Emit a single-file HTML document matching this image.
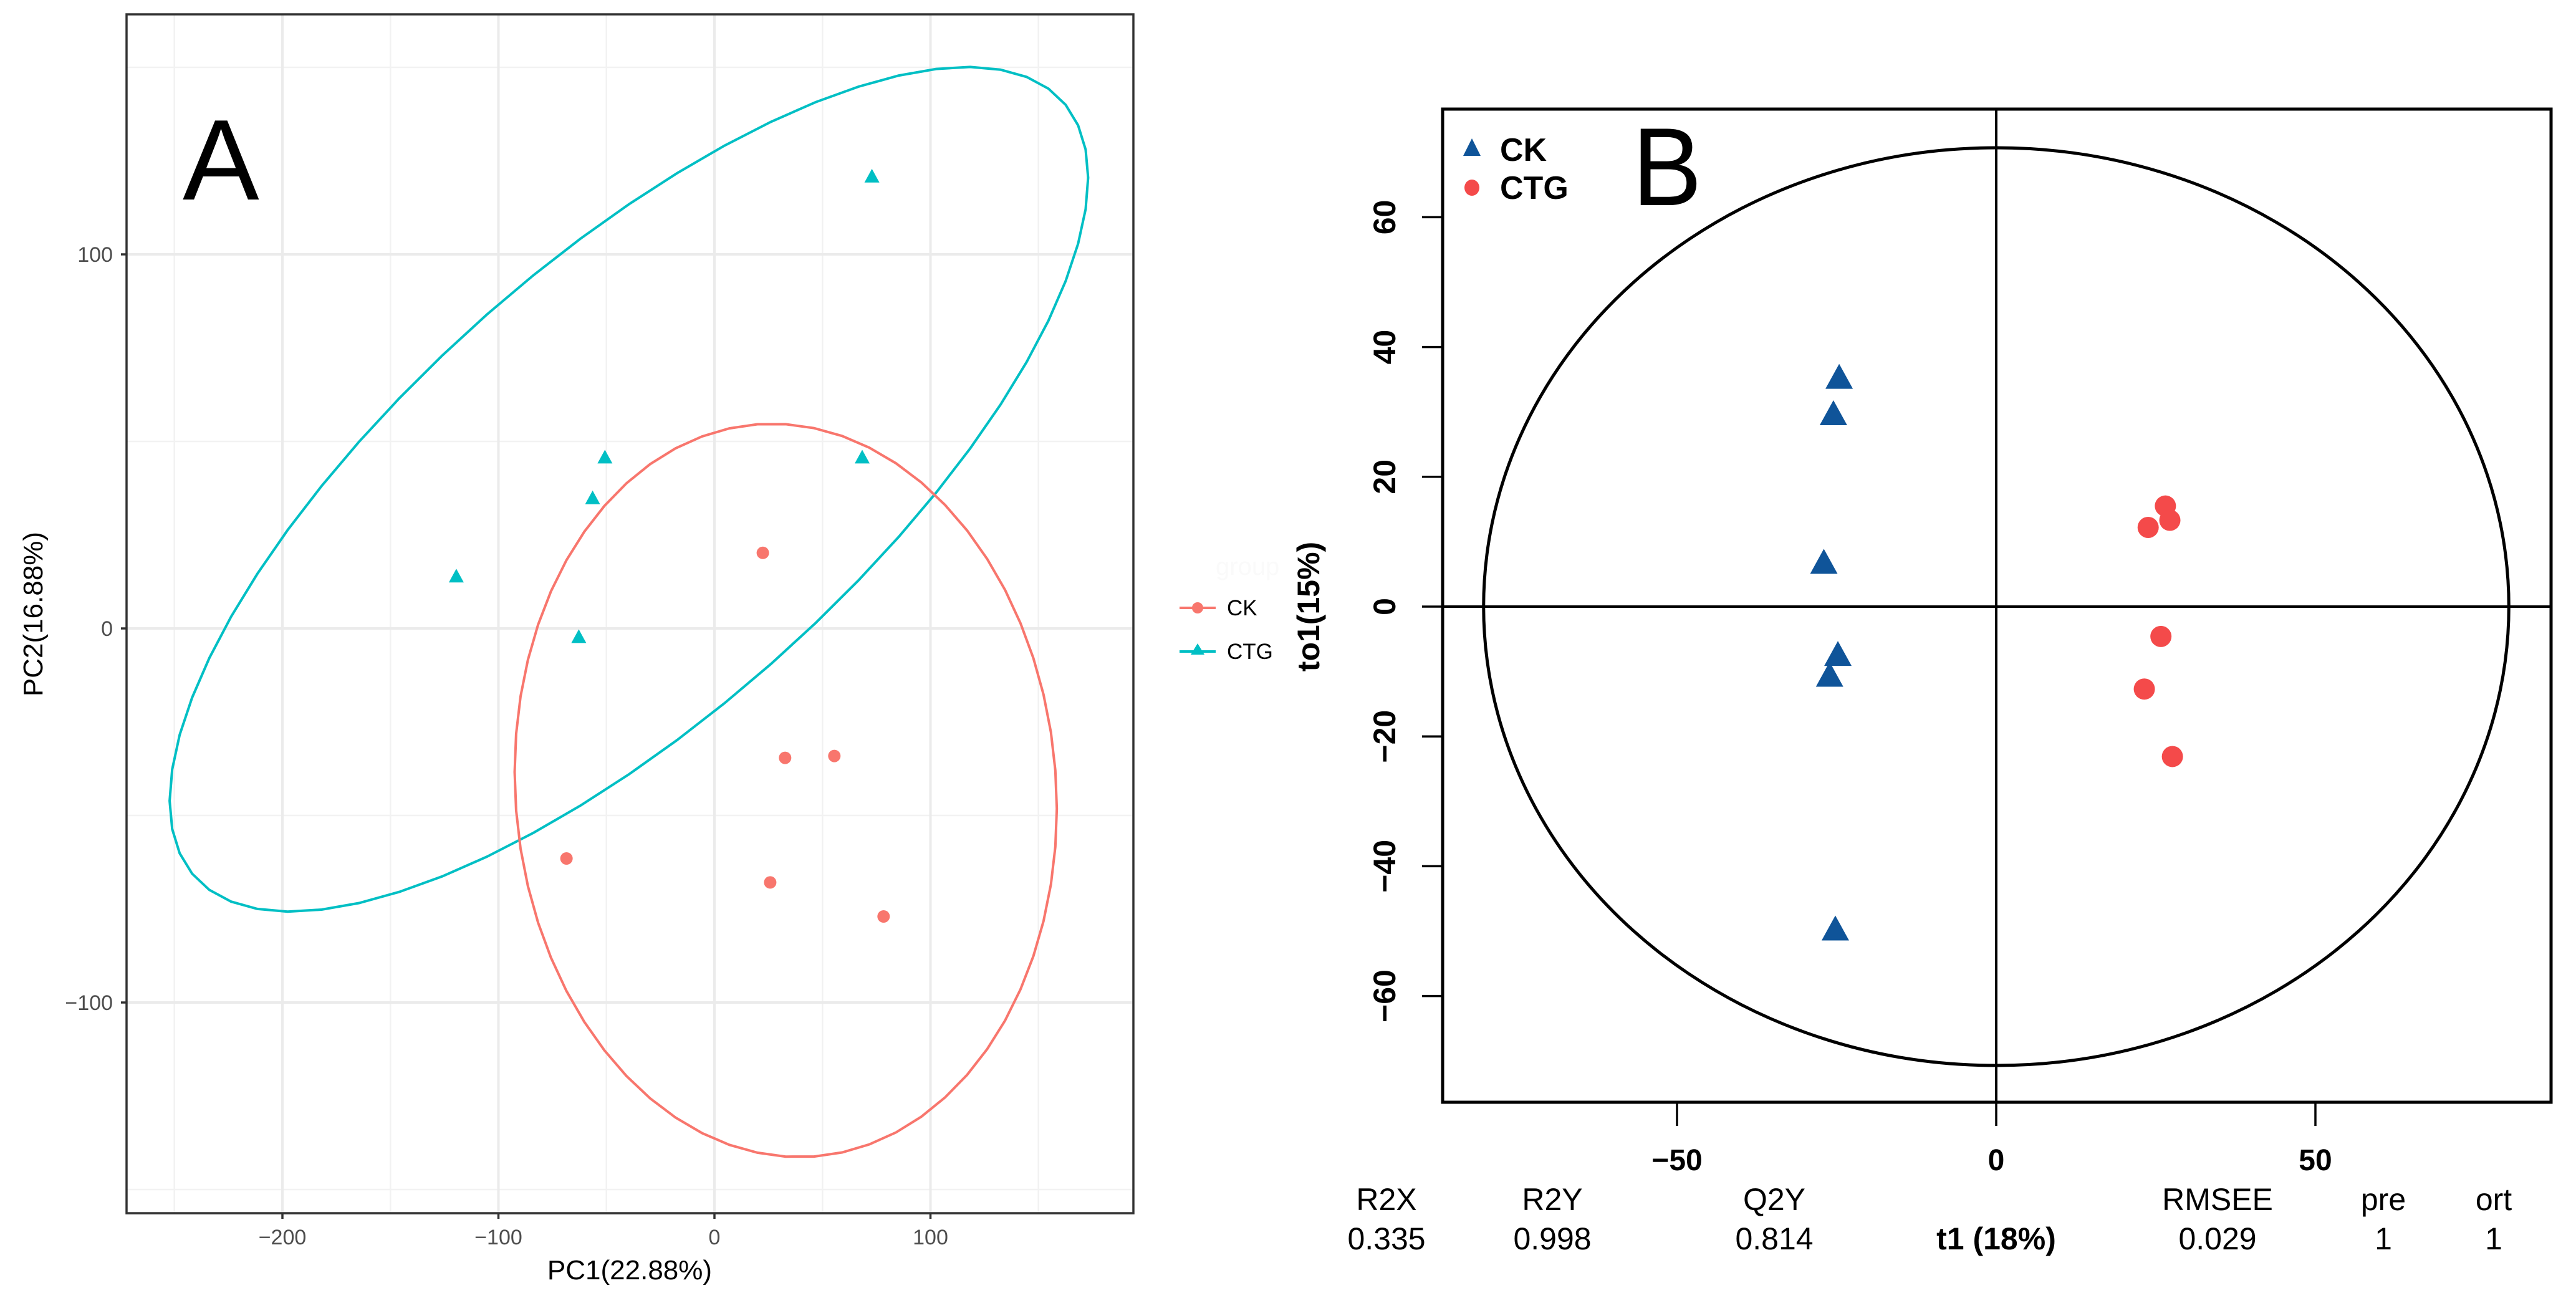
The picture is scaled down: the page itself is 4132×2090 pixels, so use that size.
<!DOCTYPE html>
<html><head><meta charset="utf-8">
<style>
html,body{margin:0;padding:0;background:#fff;}
svg{display:block;}
text{font-family:"Liberation Sans",Arial,sans-serif;}
</style></head>
<body>
<svg id="fig" width="4132" height="2090" viewBox="0 0 4132 2090" xmlns="http://www.w3.org/2000/svg">
<rect x="0" y="0" width="4132" height="2090" fill="#fff"/>
<g id="pa"></g>
<g id="pb"></g>
</svg>
<script>
// ---------- Panel A data (PCA) ----------
const aXTicks = [-200, -100, 0, 100];
const aXMinor = [-250, -150, -50, 50, 150];
const aYTicks = [-100, 0, 100];
const aYMinor = [-150, -50, 50, 150];
const aCkX = [22.4, 32.7, 55.5, -68.5, 25.8, 78.3];
const aCkY = [20.2, -34.6, -34.1, -61.5, -67.9, -77.0];
const aCtgX = [72.9, -50.7, 68.4, -56.4, -119.5, -62.8];
const aCtgY = [120.7, 45.6, 45.6, 34.7, 13.8, -2.4];
// ellipse params: [cx, cy, ax, bx, ay, by]
const aCkEllipse = [33, -43.3, 125.5, 0, -4.9, 97.9];
const aCtgEllipse = [-39.6, 37.2, 212.6, 0, 83.3, 76.2];

// ---------- Panel B data (OPLS-DA) ----------
const bXTicks = [-50, 0, 50];
const bYTicks = [-60, -40, -20, 0, 20, 40, 60];
const bCkX = [-24.6, -25.5, -27.0, -24.8, -26.1, -25.2];
const bCkY = [35.0, 29.4, 6.5, -7.7, -10.9, -50.0];
const bCtgX = [26.5, 27.2, 23.8, 25.8, 23.2, 27.6];
const bCtgY = [15.5, 13.3, 12.2, -4.6, -12.7, -23.1];
const bEllipse = [80.3, 70.7];
const bStatNames = ["R2X", "R2Y", "Q2Y", "RMSEE", "pre", "ort"];
const bStatValues = ["0.335", "0.998", "0.814", "0.029", "1", "1"];

const NS = "http://www.w3.org/2000/svg";
function mk(parent, tag, attrs, txt) {
  const e = document.createElementNS(NS, tag);
  for (const k in attrs) e.setAttribute(k, attrs[k]);
  if (txt !== undefined) e.textContent = txt;
  parent.appendChild(e);
  return e;
}

// ===== Panel A =====
const pa = document.getElementById('pa');
const aL = 203, aR = 1818, aT = 23, aB = 1946;
const ax = v => 1146 + v * 3.465;
const ay = v => 1008 - v * 6.0;
const gA = mk(pa, 'g', {});


aXMinor.forEach(v => { const l = mk(gA, 'line', {x1: ax(v), x2: ax(v), y1: aT, y2: aB, stroke: '#f2f2f2', 'stroke-width': 2.5});   });
aYMinor.forEach(v => { const l = mk(gA, 'line', {x1: aL, x2: aR, y1: ay(v), y2: ay(v), stroke: '#f2f2f2', 'stroke-width': 2.5});   });
aXTicks.forEach(v => { const l = mk(gA, 'line', {x1: ax(v), x2: ax(v), y1: aT, y2: aB, stroke: '#ebebeb', 'stroke-width': 4});   });
aYTicks.forEach(v => { const l = mk(gA, 'line', {x1: aL, x2: aR, y1: ay(v), y2: ay(v), stroke: '#ebebeb', 'stroke-width': 4});   });

function ellipsePath(p, fx, fy) {
  let d = '';
  const n = 60;
  for (let i = 0; i <= n; i++) {
    const t = 2 * Math.PI * i / n;
    const x = p[0] + p[2] * Math.cos(t) + p[3] * Math.sin(t);
    const y = p[1] + p[4] * Math.cos(t) + p[5] * Math.sin(t);
    d += (i ? 'L' : 'M') + fx(x).toFixed(1) + ',' + fy(y).toFixed(1);
  }
  return d + 'Z';
}
const e1 = mk(pa, 'path', {d: ellipsePath(aCtgEllipse, ax, ay), fill: 'none', stroke: '#00BFC4', 'stroke-width': 4});


const e2 = mk(pa, 'path', {d: ellipsePath(aCkEllipse, ax, ay), fill: 'none', stroke: '#F8766D', 'stroke-width': 4});



aCkX.forEach((v, i) => {
  const c = mk(pa, 'circle', {cx: ax(v), cy: ay(aCkY[i]), r: 10, fill: '#F8766D'});
  
  
});
aCtgX.forEach((v, i) => {
  const x = ax(v), y = ay(aCtgY[i]);
  const p = mk(pa, 'polygon', {points: `${x},${y - 13} ${x - 12},${y + 9} ${x + 12},${y + 9}`, fill: '#00BFC4'});
  
  
});

const fA = mk(pa, 'rect', {x: aL, y: aT, width: aR - aL, height: aB - aT, fill: 'none', stroke: '#333', 'stroke-width': 3.5});



aXTicks.forEach(v => {
  const t = mk(pa, 'line', {x1: ax(v), x2: ax(v), y1: aB, y2: aB + 9, stroke: '#333', 'stroke-width': 3.5});
  
  
  const s = mk(pa, 'text', {x: ax(v), y: 1996, 'text-anchor': 'middle', 'font-size': 34, fill: '#4d4d4d'}, v < 0 ? '\u2212' + (-v) : String(v));
  
  
});
aYTicks.forEach(v => {
  const t = mk(pa, 'line', {x1: aL - 9, x2: aL, y1: ay(v), y2: ay(v), stroke: '#333', 'stroke-width': 3.5});
  
  
  const s = mk(pa, 'text', {x: 181, y: ay(v) + 12, 'text-anchor': 'end', 'font-size': 34, fill: '#4d4d4d'}, v < 0 ? '\u2212' + (-v) : String(v));
  
  
});
const xtA = mk(pa, 'text', {x: 1010, y: 2052, 'text-anchor': 'middle', 'font-size': 44, fill: '#000'}, 'PC1(22.88%)');


const ytA = mk(pa, 'text', {x: 0, y: 0, 'text-anchor': 'middle', 'font-size': 44, fill: '#000', transform: 'translate(68,985) rotate(-90)'}, 'PC2(16.88%)');


const lA = mk(pa, 'text', {x: 293, y: 320, 'font-size': 184, fill: '#000'}, 'A');



// legend A
const gt = mk(pa, 'text', {x: 1950, y: 922, 'font-size': 40, fill: '#fafafa'}, 'group');


const lg1 = mk(pa, 'g', {});


mk(lg1, 'line', {x1: 1892, x2: 1950, y1: 975, y2: 975, stroke: '#F8766D', 'stroke-width': 4});
mk(lg1, 'circle', {cx: 1921, cy: 975, r: 9, fill: '#F8766D'});
mk(lg1, 'text', {x: 1968, y: 987, 'font-size': 35, fill: '#000'}, 'CK');
const lg2 = mk(pa, 'g', {});


mk(lg2, 'line', {x1: 1892, x2: 1950, y1: 1045, y2: 1045, stroke: '#00BFC4', 'stroke-width': 4});
mk(lg2, 'polygon', {points: '1921,1032 1910,1050 1932,1050', fill: '#00BFC4'});
mk(lg2, 'text', {x: 1968, y: 1057, 'font-size': 35, fill: '#000'}, 'CTG');

// ===== Panel B =====
const pb = document.getElementById('pb');
const bL = 2314, bR = 4092, bT = 175, bB = 1768;
const bx = v => 3202 + v * 10.24;
const by = v => 973 - v * 10.41;

const el = mk(pb, 'ellipse', {cx: bx(0), cy: by(0), rx: bEllipse[0] * 10.24, ry: bEllipse[1] * 10.41, fill: 'none', stroke: '#000', 'stroke-width': 5});


const h0 = mk(pb, 'line', {x1: bL, x2: bR, y1: by(0), y2: by(0), stroke: '#000', 'stroke-width': 4});


const v0 = mk(pb, 'line', {x1: bx(0), x2: bx(0), y1: bT, y2: bB, stroke: '#000', 'stroke-width': 4});



bCkX.forEach((v, i) => {
  const x = bx(v), y = by(bCkY[i]);
  const p = mk(pb, 'polygon', {points: `${x},${y - 25} ${x - 22},${y + 15} ${x + 22},${y + 15}`, fill: '#0F5499'});
  
  
});
bCtgX.forEach((v, i) => {
  const c = mk(pb, 'circle', {cx: bx(v), cy: by(bCtgY[i]), r: 17, fill: '#F44A4A'});
  
  
});

const fB = mk(pb, 'rect', {x: bL, y: bT, width: bR - bL, height: bB - bT, fill: 'none', stroke: '#000', 'stroke-width': 5});



bXTicks.forEach(v => {
  const t = mk(pb, 'line', {x1: bx(v), x2: bx(v), y1: bB, y2: bB + 38, stroke: '#000', 'stroke-width': 3.5});
  
  
  const s = mk(pb, 'text', {x: bx(v), y: 1877, 'text-anchor': 'middle', 'font-size': 48, 'font-weight': 'bold', fill: '#000'}, v < 0 ? '\u2212' + (-v) : String(v));
  
  
});
bYTicks.forEach(v => {
  const t = mk(pb, 'line', {x1: bL - 33, x2: bL, y1: by(v), y2: by(v), stroke: '#000', 'stroke-width': 3.5});
  
  
  const s = mk(pb, 'text', {x: 0, y: 0, 'text-anchor': 'middle', 'font-size': 50, 'font-weight': 'bold', fill: '#000', transform: `translate(2238,${by(v)}) rotate(-90)`}, v < 0 ? '\u2212' + (-v) : String(v));
  
  
});
const ytB = mk(pb, 'text', {x: 0, y: 0, 'text-anchor': 'middle', 'font-size': 50, 'font-weight': 'bold', fill: '#000', transform: 'translate(2116,973) rotate(-90)'}, 'to1(15%)');


const xtB = mk(pb, 'text', {x: 3202, y: 2004, 'text-anchor': 'middle', 'font-size': 50, 'font-weight': 'bold', fill: '#000'}, 't1 (18%)');



const statX = [2224, 2490, 2846, 3557, 3823, 4000];
bStatNames.forEach((n, i) => {
  const a = mk(pb, 'text', {x: statX[i], y: 1941, 'text-anchor': 'middle', 'font-size': 50, fill: '#000'}, n);
  
  
  const b = mk(pb, 'text', {x: statX[i], y: 2004, 'text-anchor': 'middle', 'font-size': 50, fill: '#000'}, bStatValues[i]);
  
  
});

const lB1 = mk(pb, 'g', {});


mk(lB1, 'polygon', {points: '2361,222 2347,250 2375,250', fill: '#0F5499'});
mk(lB1, 'text', {x: 2406, y: 258, 'font-size': 52, 'font-weight': 'bold', fill: '#000'}, 'CK');
const lB2 = mk(pb, 'g', {});


mk(lB2, 'ellipse', {cx: 2361, cy: 301, rx: 12, ry: 13, fill: '#F44A4A'});
mk(lB2, 'text', {x: 2406, y: 319, 'font-size': 52, 'font-weight': 'bold', fill: '#000'}, 'CTG');

const lBl = mk(pb, 'text', {x: 2618, y: 329, 'font-size': 178, fill: '#000', textLength: 112, lengthAdjust: 'spacingAndGlyphs'}, 'B');


</script>
</body></html>
